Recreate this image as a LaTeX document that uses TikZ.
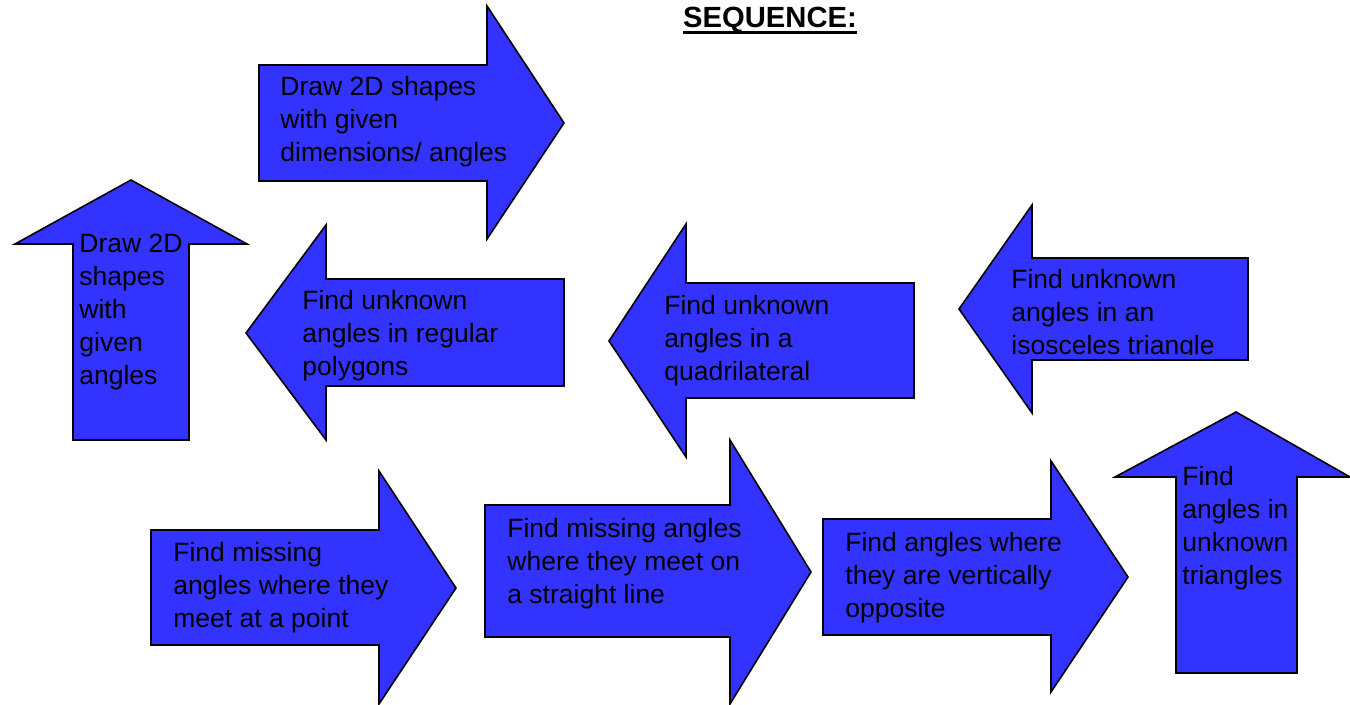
\documentclass[tikz,border=0pt]{standalone}
\usepackage{fontspec}
\setmainfont{Liberation Sans}
\definecolor{arrowblue}{RGB}{51,51,255}
\tikzset{
  blockarrow/.style={draw=black, line width=0.8pt, fill=arrowblue, line join=miter},
  arrowtext/.style={anchor=north west, inner sep=0pt, align=left, text=black,
    font=\fontsize{13.25}{16.5}\selectfont},
}
\begin{document}
\begin{tikzpicture}[x=0.5pt,y=-0.5pt]
\useasboundingbox (0,0) rectangle (1350,705);
% title
\node[inner sep=0pt, anchor=base, font=\fontsize{14.6}{17}\selectfont\bfseries] (title) at (770,28) {SEQUENCE:};
\draw[line width=1.5pt] ([yshift=-2.2pt]title.base west) -- ([yshift=-2.2pt]title.base east);
% arrow 1: right
\draw[blockarrow] (259,65) -- (487,65) -- (487,6) -- (564,123) -- (487,239) -- (487,181) -- (259,181) -- cycle;
\node[arrowtext] (t1) at (280,76) {Draw 2D shapes\\with given\\dimensions/ angles};
% arrow 2: up
\draw[blockarrow] (73,440) -- (73,244) -- (15,244) -- (131,180) -- (247,244) -- (189,244) -- (189,440) -- cycle;
\node[arrowtext] (t2) at (79,234) {Draw 2D\\shapes\\with\\given\\angles};
% arrow 3: left
\draw[blockarrow] (564,279) -- (326,279) -- (326,225) -- (246,333) -- (326,440) -- (326,386) -- (564,386) -- cycle;
\node[arrowtext] (t3) at (302,290) {Find unknown\\angles in regular\\polygons};
% arrow 4: left
\draw[blockarrow] (914,283) -- (686,283) -- (686,224) -- (609,341) -- (686,457) -- (686,398) -- (914,398) -- cycle;
\node[arrowtext] (t4) at (664,295) {Find unknown\\angles in a\\quadrilateral};
% arrow 5: left
\draw[blockarrow] (1248,258) -- (1032,258) -- (1032,205) -- (959,309) -- (1032,413) -- (1032,360) -- (1248,360) -- cycle;
\begin{scope}
\clip (1000,258) rectangle (1248,355);
\node[arrowtext] (t5) at (1011,269) {Find unknown\\angles in an\\isosceles triangle};
\end{scope}
% arrow 6: up
\draw[blockarrow] (1176,673) -- (1176,477) -- (1115,477) -- (1236,412) -- (1350,477) -- (1297,477) -- (1297,673) -- cycle;
\node[arrowtext] (t6) at (1182,466) {Find\\angles in\\unknown\\triangles};
% arrow 7: right
\draw[blockarrow] (823,519) -- (1051,519) -- (1051,461) -- (1128,577) -- (1051,692) -- (1051,635) -- (823,635) -- cycle;
\node[arrowtext] (t7) at (845,532) {Find angles where\\they are vertically\\opposite};
% arrow 8: right
\draw[blockarrow] (485,505) -- (730,505) -- (730,440) -- (811,572) -- (730,704) -- (730,637) -- (485,637) -- cycle;
\node[arrowtext] (t8) at (507,518) {Find missing angles\\where they meet on\\a straight line};
% arrow 9: right
\draw[blockarrow] (151,530) -- (379,530) -- (379,471) -- (456,588) -- (379,704) -- (379,645) -- (151,645) -- cycle;
\node[arrowtext] (t9) at (173,542) {Find missing\\angles where they\\meet at a point};
\end{tikzpicture}
\end{document}
